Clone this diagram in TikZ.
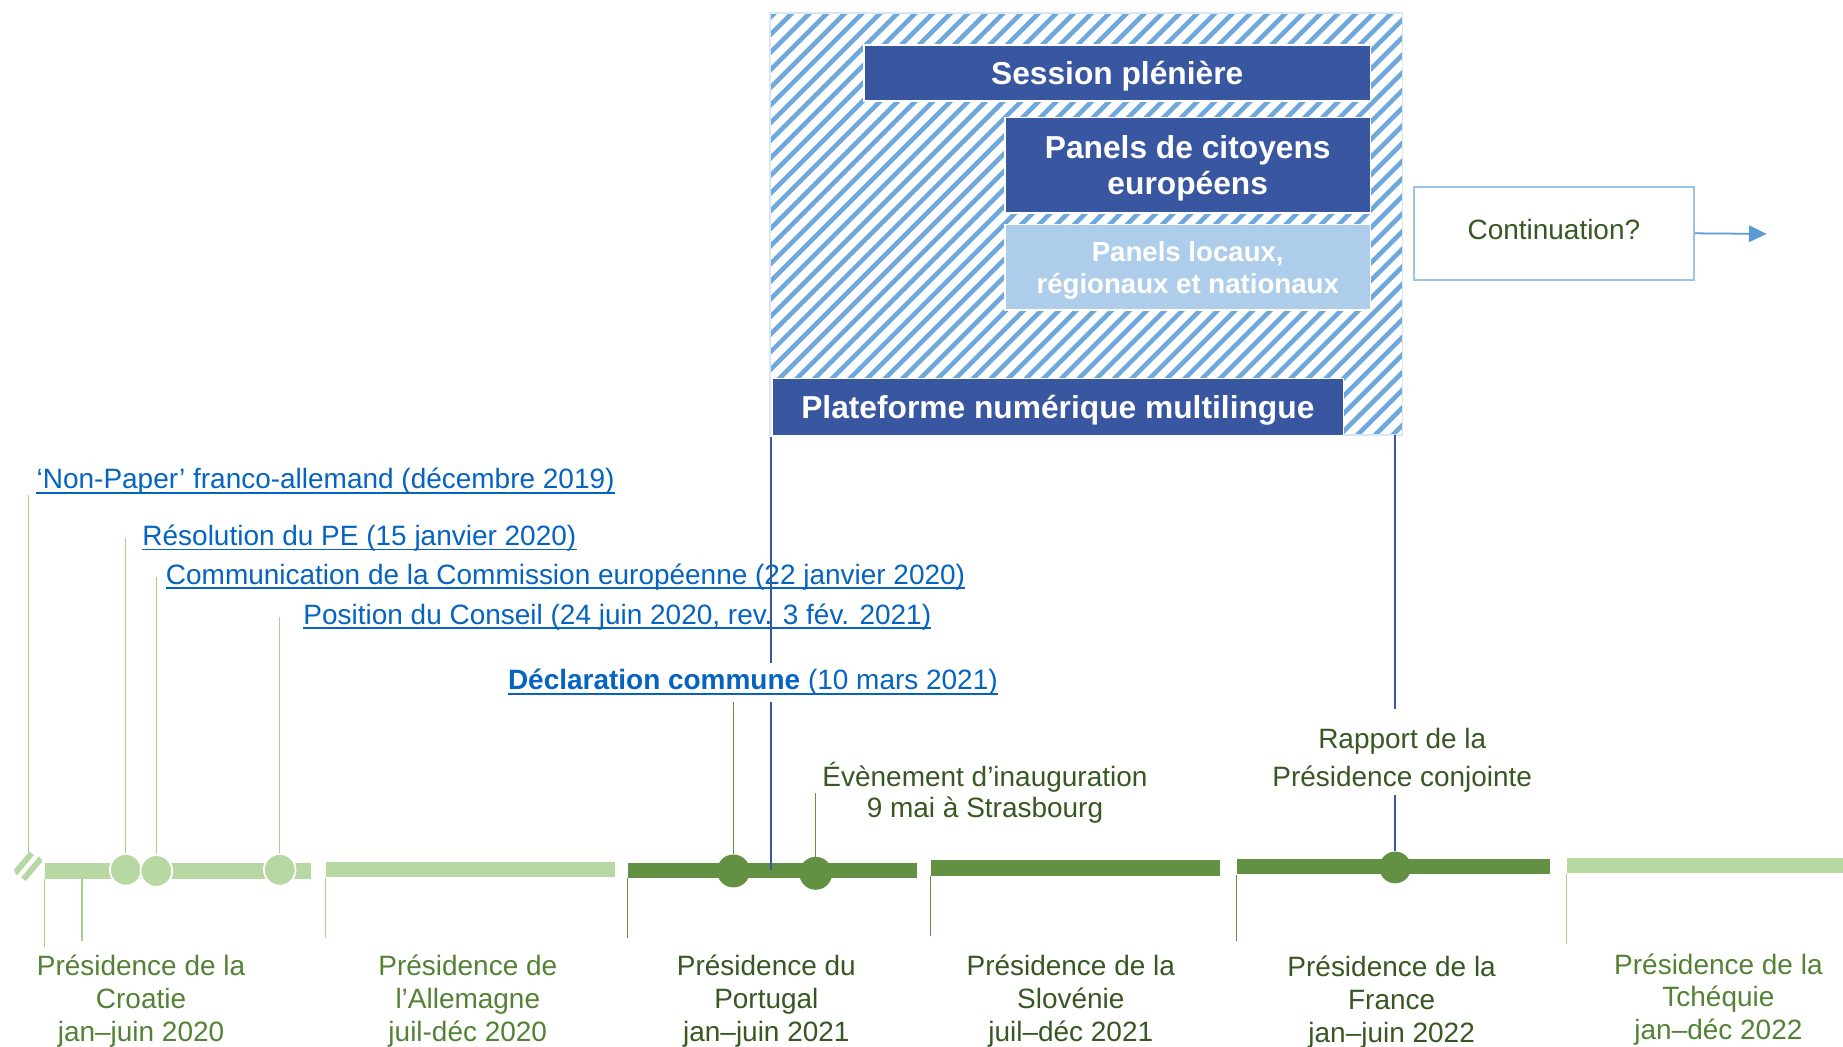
\documentclass[tikz,border=0pt]{standalone}
\usepackage{fontspec}
\setmainfont{Liberation Sans}
\usetikzlibrary{arrows.meta}
\definecolor{panelblue}{RGB}{57,86,160}
\definecolor{panellight}{RGB}{174,205,235}
\definecolor{hatchblue}{RGB}{111,168,220}
\definecolor{hatchrim}{RGB}{218,230,244}
\definecolor{contrim}{RGB}{157,195,230}
\definecolor{arrowblue}{RGB}{91,155,213}
\definecolor{linkblue}{RGB}{5,99,193}
\definecolor{barlight}{RGB}{183,216,162}
\definecolor{bardark}{RGB}{99,144,66}
\definecolor{ticklight}{RGB}{169,209,142}
\definecolor{textlight}{RGB}{84,130,53}
\definecolor{textdark}{RGB}{56,87,35}
\begin{document}
\begin{tikzpicture}[x=1pt,y=-1pt]
  \tikzstyle{panel}=[rectangle,draw=white,line width=1.5pt,fill=panelblue,text=white,inner sep=0pt,align=center,text depth=0pt,font=\fontsize{27}{31}\selectfont\bfseries]
  \tikzstyle{panelpale}=[panel,fill=panellight,font=\fontsize{23.5}{27}\selectfont\bfseries]
  \tikzstyle{hatch}=[hatchblue,line width=3.9pt]
  \tikzstyle{doc}=[anchor=base west,inner sep=0pt,text=linkblue,font=\fontsize{23.8}{28}\selectfont]
  \tikzstyle{underline}=[linkblue,line width=1.6pt]
  \tikzstyle{pres}=[anchor=north,inner sep=0pt,align=center,font=\fontsize{23.8}{28}\selectfont]
  \tikzstyle{lightbar}=[rectangle,fill=barlight,minimum height=13pt,inner sep=0pt]
  \tikzstyle{darkbar}=[lightbar,fill=bardark]
  \tikzstyle{lightdot}=[circle,fill=barlight,draw=white,line width=1.5pt,minimum size=27pt,inner sep=0pt]
  \tikzstyle{darkdot}=[circle,fill=bardark,minimum size=28pt,inner sep=0pt]
  \tikzstyle{linktick}=[draw=ticklight,line width=1.2pt]
  \tikzstyle{darktick}=[draw=bardark,line width=1.2pt]
  \tikzstyle{bluelink}=[draw=panelblue,line width=1.8pt]
  \path[use as bounding box,fill=white] (0,0) rectangle (1568,890);

  \coordinate (conf-nw) at (655,11);
  \coordinate (conf-se) at (1193,370);
  \begin{scope}
    \clip (conf-nw) rectangle (conf-se);
    \foreach \x in {290,305,...,1200}
      \draw[hatch] (\x,380) -- ++(372,-372);
  \end{scope}
  \draw[hatchrim,line width=1.2pt] (conf-nw) rectangle (conf-se);

  \node[panel,minimum width=431pt,minimum height=48pt] (plenary) at (950.5,62) {Session plénière};
  \node[panel,minimum width=311pt,minimum height=81pt] (citizens) at (1010.5,140.5) {Panels de citoyens\\européens};
  \node[panelpale,minimum width=311pt,minimum height=73pt] (local) at (1010.5,227.5) {Panels locaux,\\régionaux et nationaux};
  \node[panel,minimum width=486pt,minimum height=49pt] (platform) at (900,346.5) {Plateforme numérique multilingue};

  \node[draw=contrim,line width=1.5pt,minimum width=238pt,minimum height=79pt,text depth=6pt,text=textdark,font=\fontsize{23.8}{28}\selectfont] (cont) at (1322,198.5) {Continuation?};
  \coordinate (cont-end) at (1503,199);
  \draw[arrowblue,line width=1.5pt,-{Triangle[length=15pt,width=14pt]}] (cont.east) -- (cont-end);

  \node[doc] (nonpaper) at (31,416) {‘Non-Paper’ franco-allemand (décembre 2019)};
  \node[doc] (resolution) at (121,464) {Résolution du PE (15 janvier 2020)};
  \node[doc] (communication) at (141,497) {Communication de la Commission européenne (22 janvier 2020)};
  \node[doc] (council) at (258,531) {Position du Conseil (24 juin 2020, rev. 3 fév. 2021)};
  \node[doc,inner ysep=10pt] (declaration) at (432,587) {\textbf{Déclaration commune} (10 mars 2021)};
  \foreach \n in {nonpaper,resolution,communication,council,declaration}
    \draw[underline] ([yshift=-3.5pt]\n.base west) -- ([yshift=-3.5pt]\n.base east);

  \node[pres,text=textdark,font=\fontsize{23.8}{27}\selectfont] (event) at (838,648) {Évènement d’inauguration\\9 mai à Strasbourg};
  \node[pres,text=textdark,inner ysep=6pt,font=\fontsize{23.8}{33}\selectfont] (report) at (1193,613) {Rapport de la\\Présidence conjointe};

  \node[lightbar,minimum width=227pt] (croatia) at (151.5,741) {};
  \node[lightbar,minimum width=246pt] (germany) at (400,740) {};
  \node[darkbar,minimum width=246pt] (portugal) at (657,740.5) {};
  \node[darkbar,minimum width=246pt] (slovenia) at (915,738.5) {};
  \node[darkbar,minimum width=267pt] (france) at (1185.5,737.5) {};
  \node[lightbar,minimum width=260pt] (czechia) at (1463,736.5) {};
  \coordinate (brk) at (24,737);
  \begin{scope}
    \clip (brk) circle (12.5);
    \draw[barlight,line width=5pt] (10,746) -- (27,726);
    \draw[barlight,line width=5pt] (20,748) -- (37,728);
  \end{scope}

  \draw[linktick] (croatia.south west) -- ++(0,58);
  \draw[linktick] ([xshift=32pt]croatia.south west) -- ++(0,53);
  \draw[linktick] (germany.south west) -- ++(0,51);
  \draw[darktick] (portugal.south west) -- ++(0,51);
  \draw[darktick] (slovenia.south west) -- ++(0,51);
  \draw[darktick] (france.south west) -- ++(0,56);
  \draw[linktick] (czechia.south west) -- ++(0,60);

  \node[pres,text=textlight] (croatia-label) at (120,812) {Présidence de la\\Croatie\\jan–juin 2020};
  \node[pres,text=textlight] (germany-label) at (398,812) {Présidence de\\l’Allemagne\\juil-déc 2020};
  \node[pres,text=textdark] (portugal-label) at (652,812) {Présidence du\\Portugal\\jan–juin 2021};
  \node[pres,text=textdark] (slovenia-label) at (911,812) {Présidence de la\\Slovénie\\juil–déc 2021};
  \node[pres,text=textdark] (france-label) at (1184,813) {Présidence de la\\France\\jan–juin 2022};
  \node[pres,text=textlight] (czechia-label) at (1462,811) {Présidence de la\\Tchéquie\\jan–déc 2022};

  \node[lightdot] (res-dot) at (107,740) {};
  \node[lightdot] (com-dot) at (133,741) {};
  \node[lightdot] (pos-dot) at (238,740) {};
  \draw[linktick,shorten <=11pt] (brk) -- (brk |- nonpaper.south);
  \draw[linktick] (res-dot.north) -- (res-dot |- resolution.west);
  \draw[linktick] (com-dot.north) -- (com-dot |- communication.west);
  \draw[linktick] (pos-dot.north) -- (pos-dot |- council.west);
  \node[darkdot] (decl-dot) at (624,741) {};
  \node[darkdot] (event-dot) at (694,743) {};
  \node[darkdot,minimum size=27pt] (report-dot) at (1187,738) {};
  \draw[darktick,shorten >=-5pt] (decl-dot) -- (decl-dot |- declaration.south);
  \draw[darktick] (event-dot) -- (event-dot |- event.west);

  \draw[bluelink,shorten >=-5pt] (platform.south west) -- (platform.south west |- declaration.north);
  \draw[bluelink,shorten <=-5pt] (platform.south west |- declaration.south) -- (platform.south west |- portugal.center);
  \draw[bluelink,shorten >=10pt] (report-dot |- conf-se) -- (report-dot |- report.north);
  \draw[bluelink,shorten <=-4pt] (report-dot |- report.south) -- (report-dot);
\end{tikzpicture}
\end{document}
